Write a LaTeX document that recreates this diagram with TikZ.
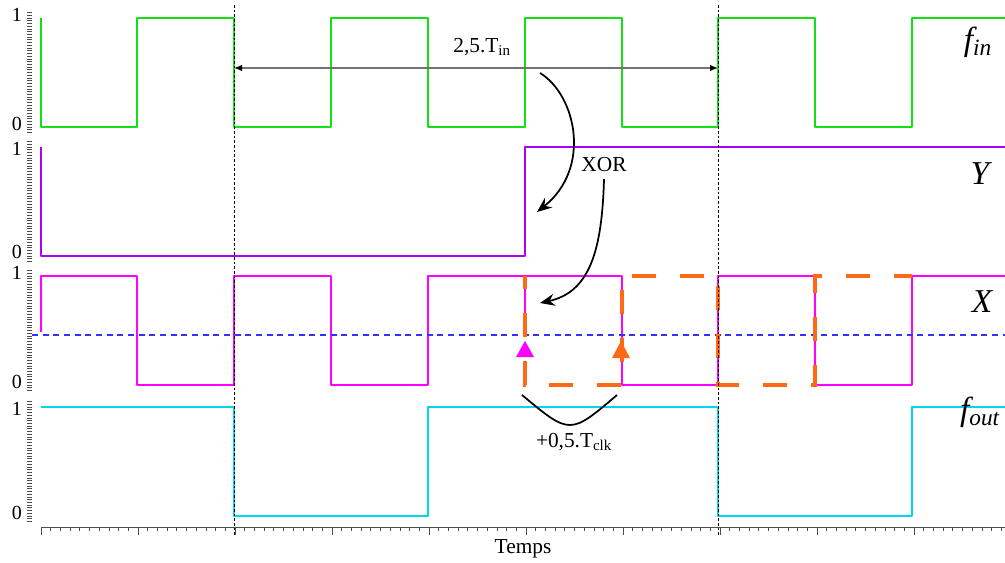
\documentclass[tikz,border=0pt]{standalone}
\usepackage{fontspec}
\setmainfont{Liberation Serif}
\usetikzlibrary{arrows.meta}

\definecolor{finGreen}{RGB}{20,225,20}
\definecolor{yPurple}{RGB}{170,0,255}
\definecolor{xMagenta}{RGB}{255,0,255}
\definecolor{foutCyan}{RGB}{0,215,235}
\definecolor{delayOrange}{RGB}{255,105,20}
\definecolor{threshBlue}{RGB}{50,50,255}

\tikzset{
  sigFin/.style={draw=finGreen, line width=2.2pt, line join=round},
  sigY/.style={draw=yPurple, line width=2.2pt, line join=round},
  sigX/.style={draw=xMagenta, line width=2.2pt, line join=round},
  sigFout/.style={draw=foutCyan, line width=2.2pt, line join=round},
  delayed/.style={draw=delayOrange, line width=3pt, dash pattern=on 18pt off 18pt, dash phase=8pt},
  threshold/.style={draw=threshBlue, line width=1.8pt, dash pattern=on 4.5pt off 3.5pt},
  marker/.style={draw=black, line width=0.5pt, dash pattern=on 2pt off 1.5pt},
  tickmark/.style={draw=black!70, line width=0.5pt},
  lvl/.style={font=\fontsize{15}{15}\selectfont, inner sep=0pt},
  signame/.style={font=\fontsize{25}{25}\selectfont\itshape, inner sep=0pt},
  note/.style={font=\fontsize{16}{16}\selectfont, inner sep=2pt},
  curvearrow/.style={draw=black, line width=1.3pt, -{Stealth[length=11pt, width=9pt]}}
}

\begin{document}
\begin{tikzpicture}[x=0.75pt, y=-0.75pt]
\useasboundingbox (0,0) rectangle (1005,563);

% level ticks on the left
\foreach \b in {127,256,385,516} {
  \foreach \k in {-2,...,42} {
    \draw[tickmark] (27,{\b-\k*2.725}) -- (32,{\b-\k*2.725});
  }
}
\node[lvl] (fin1) at (17,15) {1};
\node[lvl] (fin0) at (17,124) {0};
\node[lvl] (y1) at (17,149) {1};
\node[lvl] (y0) at (17,252) {0};
\node[lvl] (x1) at (17,273) {1};
\node[lvl] (x0) at (17,382) {0};
\node[lvl] (fout1) at (17,409) {1};
\node[lvl] (fout0) at (17,513) {0};

% time axis
\draw[tickmark, line width=0.7pt] (41,527) -- (1005,527);
\foreach \k in {0,...,99} {
  \draw[tickmark] ({41+\k*9.7},527) -- ({41+\k*9.7},531);
}
\foreach \k in {0,...,9} {
  \draw[tickmark, line width=0.7pt] ({41+\k*97},527) -- ({41+\k*97},535);
}
\node[note] (lblTemps) at (523,549) {Temps};

% signals
\draw[sigFin] (41,18) -- (41,127) -- (137,127) -- (137,18) -- (234,18) -- (234,127)
  -- (331,127) -- (331,18) -- (428,18) -- (428,127) -- (525,127) -- (525,18)
  -- (622,18) -- (622,127) -- (718,127) -- (718,18) -- (815,18) -- (815,127)
  -- (912,127) -- (912,18) -- (1005,18);
\draw[sigY] (41,147) -- (41,256) -- (525,256) -- (525,147) -- (1005,147);
\draw[sigX] (41,332) -- (41,276) -- (137,276) -- (137,385) -- (234,385) -- (234,276)
  -- (331,276) -- (331,385) -- (428,385) -- (428,276) -- (622,276) -- (622,385)
  -- (718,385) -- (718,276) -- (815,276) -- (815,385) -- (912,385) -- (912,276)
  -- (1005,276);
\draw[sigX] (525,276) -- (525,332);
\draw[sigFout] (41,407) -- (234,407) -- (234,516) -- (428,516) -- (428,407)
  -- (718,407) -- (718,516) -- (912,516) -- (912,407) -- (1005,407);

\draw[threshold] (32,335) -- (1005,335);
\draw[delayed] (525,276) -- (525,385) -- (622,385) -- (622,276) -- (718,276)
  -- (718,385) -- (815,385) -- (815,276) -- (912,276);
\fill[xMagenta] (516,357) -- (525,341) -- (534,357) -- cycle;
\fill[delayOrange] (612,358) -- (621,341) -- (630,358) -- cycle;

% period markers
\draw[marker] (234,5) -- (234,537);
\draw[marker] (718,5) -- (718,537);

% 2,5 periods
\coordinate (dimL) at (234,68);
\coordinate (dimR) at (718,68);
\draw[black!55, line width=1pt, {Latex[length=6pt, width=5pt, black]}-{Latex[length=6pt, width=5pt, black]}] (dimL) -- (dimR);
\node[note] (lblTin) at (482,47) {2,5.T\textsubscript{in}};

% XOR and delay notes
\node[note] (lblXor) at (604,165) {XOR};
\coordinate (tinTail) at (540,73);
\coordinate (yHead) at (537,212);
\coordinate (xHead) at (540,303);
\draw[curvearrow] (tinTail) .. controls (576,95) and (592,168) .. (yHead);
\draw[curvearrow] ([yshift=-3pt]lblXor.south) .. controls (602,250) and (590,292) .. (xHead);

\coordinate (clkL) at (522,395);
\coordinate (clkR) at (617,395);
\draw[black, line width=1.3pt] (clkL) .. controls (570,435) .. (clkR);
\node[note] (lblClk) at (574,442) {+0,5.T\textsubscript{clk}};

% signal names
\node[signame] (lblFin) at (978,42) {f\textsubscript{in}};
\node[signame] (lblY) at (980,174) {Y};
\node[signame] (lblX) at (982,302) {X};
\node[signame] (lblFout) at (980,412) {f\textsubscript{out}};
\end{tikzpicture}
\end{document}
